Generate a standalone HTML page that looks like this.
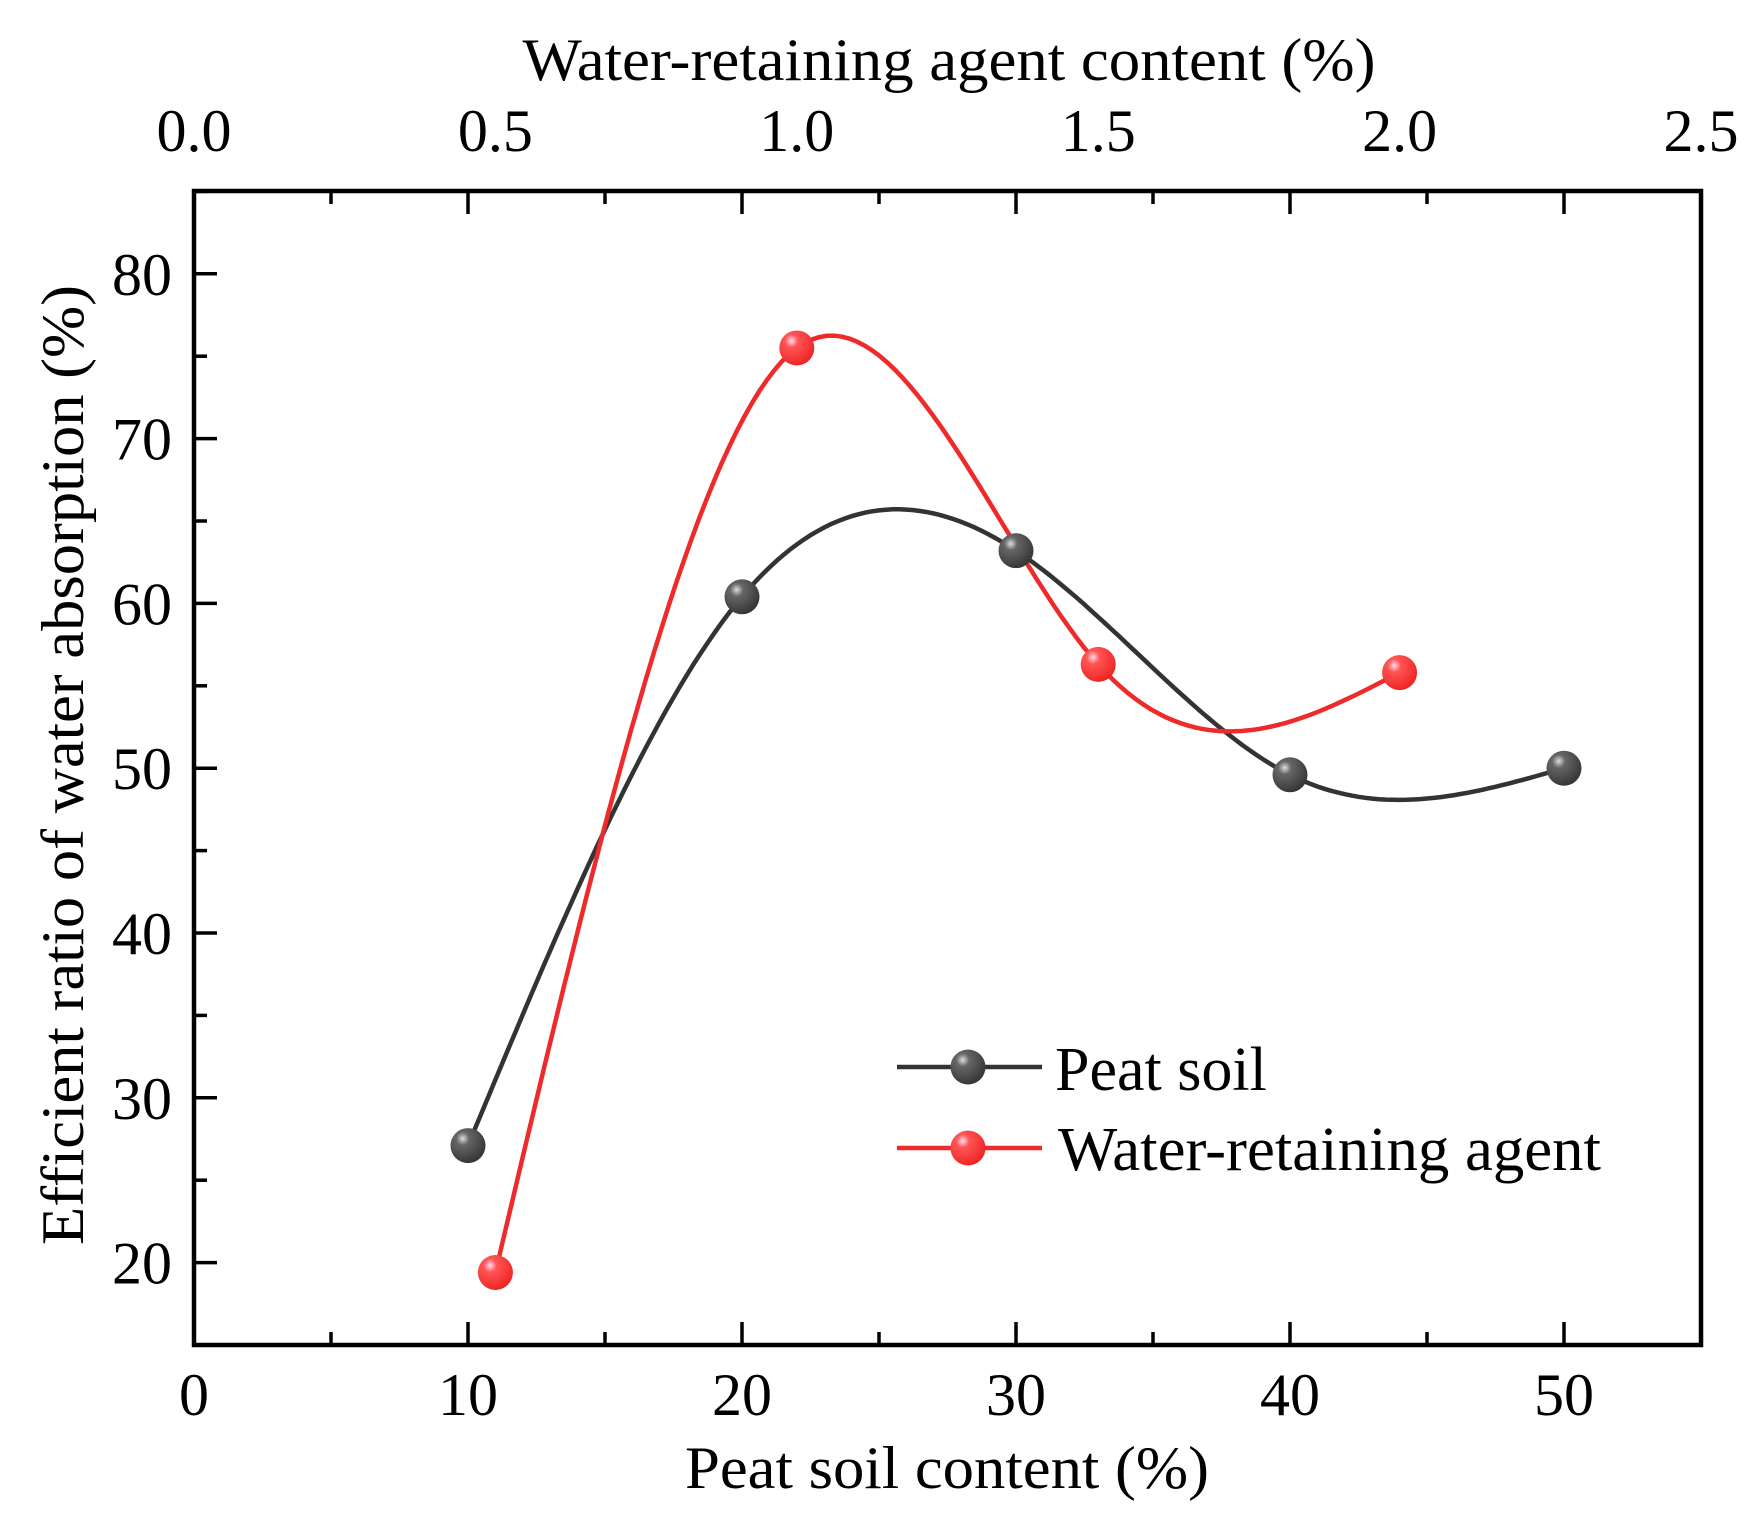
<!DOCTYPE html>
<html><head><meta charset="utf-8"><style>
html,body{margin:0;padding:0;background:#fff}
svg text{font-family:"Liberation Serif",serif;fill:#000}
</style></head><body>
<svg id="s" width="1752" height="1525" viewBox="0 0 1752 1525" xmlns="http://www.w3.org/2000/svg">
<defs>
<radialGradient id="gk" cx="0.35" cy="0.3" r="0.75">
<stop offset="0" stop-color="#ddd"/><stop offset="0.25" stop-color="#666"/><stop offset="1" stop-color="#333"/></radialGradient>
<radialGradient id="gr" cx="0.35" cy="0.3" r="0.75">
<stop offset="0" stop-color="#fde"/><stop offset="0.25" stop-color="#f55"/><stop offset="1" stop-color="#e22"/></radialGradient>
</defs>
<g id="ax"></g>
<text x="949" y="80" font-size="60" text-anchor="middle" textLength="853" lengthAdjust="spacingAndGlyphs">Water-retaining agent content (%)</text>
<text x="947" y="1488" font-size="60" text-anchor="middle" textLength="524" lengthAdjust="spacingAndGlyphs">Peat soil content (%)</text>
<text transform="translate(83,765) rotate(-90)" font-size="60" text-anchor="middle" textLength="960" lengthAdjust="spacingAndGlyphs">Efficient ratio of water absorption (%)</text>
<line x1="897" y1="1067" x2="1042" y2="1067" stroke="#333" stroke-width="4.5"/>
<circle cx="968" cy="1067" r="17.5" fill="url(#gk)"/>
<line x1="897" y1="1148" x2="1042" y2="1148" stroke="#ee2a2a" stroke-width="4.5"/>
<circle cx="968" cy="1148" r="17.5" fill="url(#gr)"/>
<text x="1055" y="1090" font-size="62">Peat soil</text>
<text x="1058" y="1170" font-size="62" textLength="543" lengthAdjust="spacingAndGlyphs">Water-retaining agent</text>
</svg>
<script>
var s=document.getElementById('ax');
function X(v){return 194+v*27.4}function Y(v){return 1345-(v-15)*16.48}
var h='';
h+='<rect x="194" y="191" width="1507" height="1154" fill="none" stroke="#000" stroke-width="4.5"/>';
for(var v=0;v<=55;v+=5){var M=v%10==0,L=M?23:13;h+='<line x1="'+X(v)+'" y1="1345" x2="'+X(v)+'" y2="'+(1345-L)+'" stroke="#000" stroke-width="3.5"/>';h+='<line x1="'+X(v)+'" y1="191" x2="'+X(v)+'" y2="'+(191+L)+'" stroke="#000" stroke-width="3.5"/>';
if(M&&v<=50)h+='<text x="'+X(v)+'" y="1415" font-size="60" text-anchor="middle">'+v+'</text>';}
for(var i=0;i<=5;i++){h+='<text x="'+X(i*11)+'" y="151" font-size="60" text-anchor="middle">'+(i*0.5).toFixed(1)+'</text>';}
for(var v=20;v<=85;v+=5){var M=v%10==0,L=M?23:13;h+='<line x1="194" y1="'+Y(v)+'" x2="'+(194+L)+'" y2="'+Y(v)+'" stroke="#000" stroke-width="3.5"/>';
if(M)h+='<text x="172" y="'+(Y(v)+21)+'" font-size="60" text-anchor="end">'+v+'</text>';}
function spline(xs,ys){var n=xs.length,hh=[],a=[],l=[1],mu=[0],z=[0],c=new Array(n).fill(0),b=[],d=[];
for(var i=0;i<n-1;i++)hh[i]=xs[i+1]-xs[i];
for(var i=1;i<n-1;i++)a[i]=3/hh[i]*(ys[i+1]-ys[i])-3/hh[i-1]*(ys[i]-ys[i-1]);
for(var i=1;i<n-1;i++){l[i]=2*(xs[i+1]-xs[i-1])-hh[i-1]*mu[i-1];mu[i]=hh[i]/l[i];z[i]=(a[i]-hh[i-1]*z[i-1])/l[i];}
for(var j=n-2;j>=0;j--){c[j]=z[j]-mu[j]*c[j+1];b[j]=(ys[j+1]-ys[j])/hh[j]-hh[j]*(c[j+1]+2*c[j])/3;d[j]=(c[j+1]-c[j])/(3*hh[j]);}
var p='';for(var j=0;j<n-1;j++){for(var k=0;k<=40;k++){var t=hh[j]*k/40,x=xs[j]+t,y=ys[j]+b[j]*t+c[j]*t*t+d[j]*t*t*t;p+=(p?'L':'M')+X(x).toFixed(1)+','+Y(y).toFixed(1);}}return p;}
var px=[10,20,30,40,50],py=[27.1,60.4,63.2,49.6,50.0],rx=[11,22,33,44],ry=[19.4,75.5,56.3,55.8];
h+='<path d="'+spline(px,py)+'" fill="none" stroke="#333" stroke-width="4.5"/>';
h+='<path d="'+spline(rx,ry)+'" fill="none" stroke="#ee2a2a" stroke-width="4.5"/>';
for(var i=0;i<5;i++)h+='<circle cx="'+X(px[i])+'" cy="'+Y(py[i])+'" r="17.5" fill="url(#gk)"/>';
for(var i=0;i<4;i++)h+='<circle cx="'+X(rx[i])+'" cy="'+Y(ry[i])+'" r="17.5" fill="url(#gr)"/>';
s.innerHTML=h;
</script>
</body></html>
